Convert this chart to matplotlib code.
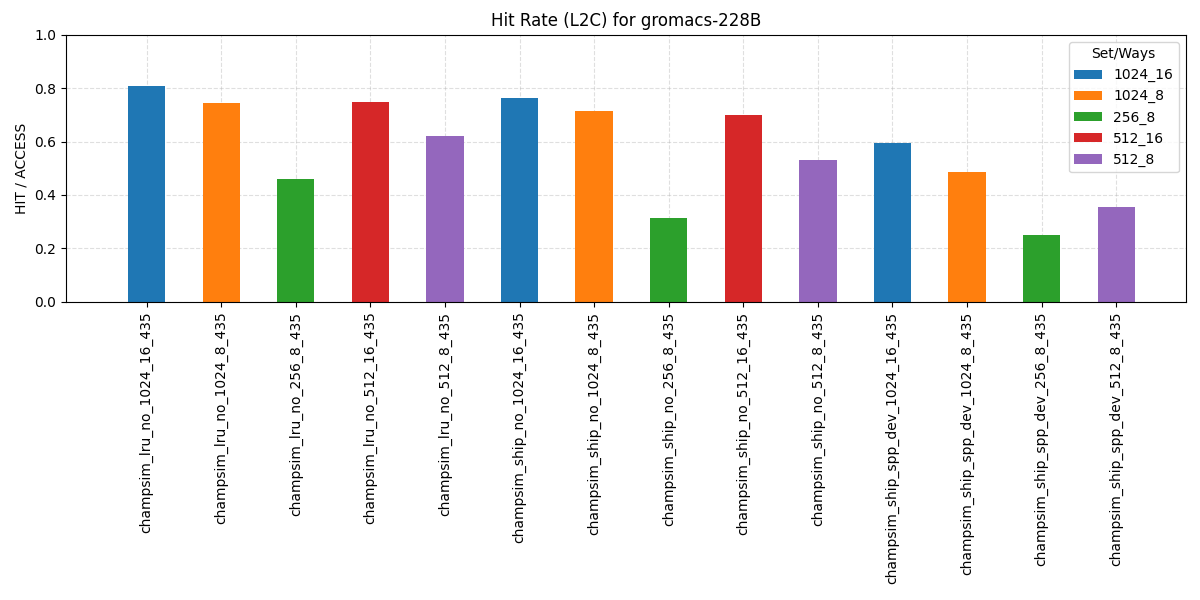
import matplotlib.pyplot as plt

configs = [
    "champsim_lru_no_1024_16_435", "champsim_lru_no_1024_8_435", "champsim_lru_no_256_8_435",
    "champsim_lru_no_512_16_435", "champsim_lru_no_512_8_435", "champsim_ship_no_1024_16_435",
    "champsim_ship_no_1024_8_435", "champsim_ship_no_256_8_435", "champsim_ship_no_512_16_435",
    "champsim_ship_no_512_8_435", "champsim_ship_spp_dev_1024_16_435", "champsim_ship_spp_dev_1024_8_435",
    "champsim_ship_spp_dev_256_8_435", "champsim_ship_spp_dev_512_8_435",
]
set_ways = ["1024_16", "1024_8", "256_8", "512_16", "512_8", "1024_16", "1024_8",
            "256_8", "512_16", "512_8", "1024_16", "1024_8", "256_8", "512_8"]
hit_rate = [0.81, 0.745, 0.46, 0.75, 0.62, 0.765, 0.715, 0.315, 0.70, 0.53,
            0.595, 0.485, 0.25, 0.355]

groups = ["1024_16", "1024_8", "256_8", "512_16", "512_8"]
colors = {"1024_16": "#1f77b4", "1024_8": "#ff7f0e", "256_8": "#2ca02c",
          "512_16": "#d62728", "512_8": "#9467bd"}

fig, ax = plt.subplots(figsize=(12, 6), dpi=100)
x = list(range(len(configs)))
ax.bar(x, hit_rate, width=0.5, color=[colors[s] for s in set_ways], zorder=2)
for g in groups:
    ax.bar([0], [0], width=0, color=colors[g], label=g)
ax.set_xticks(x)
ax.set_xticklabels(configs, rotation=90)
ax.set_xlim(-1.08, 13.93)
ax.set_ylim(0, 1.0)
ax.set_ylabel("HIT / ACCESS")
ax.set_title("Hit Rate (L2C) for gromacs-228B")
ax.grid(True, linestyle="--", alpha=0.4, zorder=0)
ax.set_axisbelow(True)
ax.legend(title="Set/Ways", loc="upper right")
plt.subplots_adjust(left=0.055, right=0.988, top=0.942, bottom=0.497)
plt.savefig("out.png")
